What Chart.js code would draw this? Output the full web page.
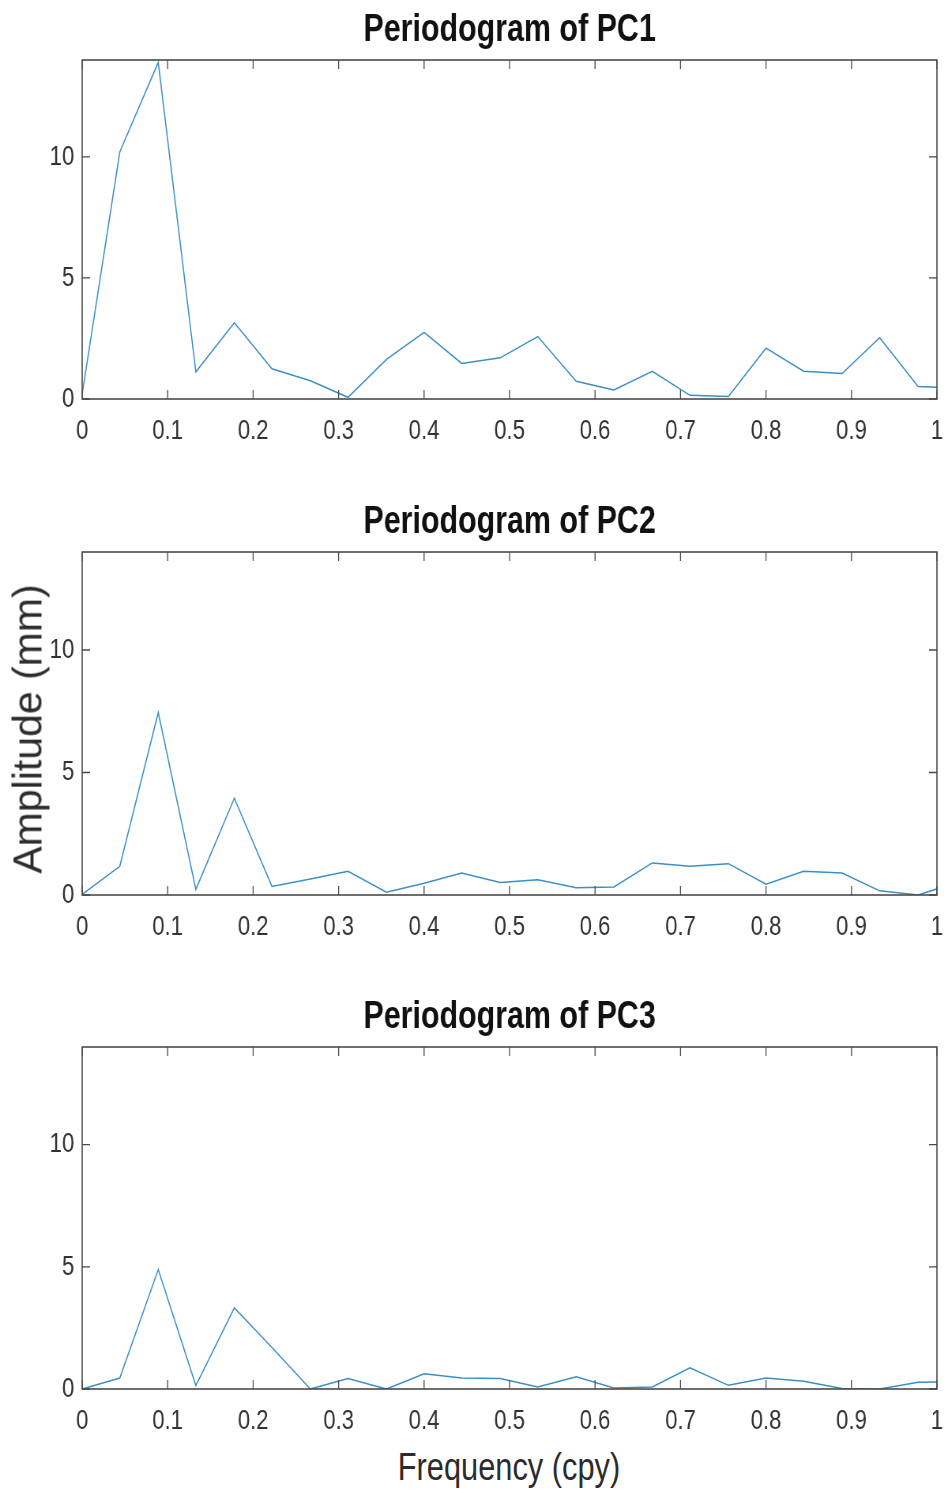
<!DOCTYPE html>
<html>
<head>
<meta charset="utf-8">
<script src="https://cdn.jsdelivr.net/npm/chart.js@4"></script>
<style>
  html, body { margin: 0; padding: 0; background: #fff; }
  body { width: 944px; height: 1492px; position: relative; overflow: hidden; }
  /* the reference figure is horizontally squeezed, so each panel is drawn wider and squeezed */
  .panel { position: absolute; left: 0; width: 1215px; transform: scaleX(0.79); transform-origin: 0 0; }
  .ylab {
    position: absolute; left: 28px; top: 729px;
    transform: translate(-50%, -50%) rotate(-90deg);
    font-family: "Liberation Sans", Arial, sans-serif; font-size: 41px;
    color: #2b2b2b; white-space: nowrap;
  }
  .xlab {
    position: absolute; left: 509px; top: 1467px;
    transform: translate(-50%, -50%) scaleX(0.81);
    font-family: "Liberation Sans", Arial, sans-serif; font-size: 38px;
    color: #2b2b2b; white-space: nowrap;
  }
</style>
</head>
<body>
<div class="panel" style="top:0px;height:449px"><canvas id="pc1"></canvas></div>
<div class="panel" style="top:492px;height:453px"><canvas id="pc2"></canvas></div>
<div class="panel" style="top:987px;height:452px"><canvas id="pc3"></canvas></div>
<div class="ylab">Amplitude (mm)</div>
<div class="xlab">Frequency (cpy)</div>
<script>
document.addEventListener('DOMContentLoaded', function () {
    // frequency bins (cpy)
    const freqs = [0, 0.044, 0.089, 0.133, 0.178, 0.222, 0.267, 0.311, 0.356, 0.4, 0.444, 0.489,
                   0.533, 0.578, 0.622, 0.667, 0.711, 0.756, 0.8, 0.844, 0.889, 0.933, 0.978, 1.022];

    const pc1 = [0.2, 10.2, 13.9, 1.12, 3.15, 1.25, 0.75, 0.07, 1.64, 2.75, 1.47, 1.7,
                 2.58, 0.73, 0.37, 1.14, 0.15, 0.1, 2.1, 1.15, 1.05, 2.53, 0.52, 0.45];
    const pc2 = [0.03, 1.17, 7.45, 0.23, 3.95, 0.35, 0.65, 0.97, 0.11, 0.48, 0.9, 0.51,
                 0.62, 0.3, 0.33, 1.31, 1.17, 1.28, 0.44, 0.97, 0.9, 0.17, 0.0, 0.5];
    const pc3 = [0.0, 0.45, 4.89, 0.14, 3.32, 1.7, 0.0, 0.43, 0.0, 0.62, 0.45, 0.43,
                 0.08, 0.5, 0.04, 0.08, 0.87, 0.15, 0.45, 0.32, 0.02, 0.0, 0.28, 0.29];

    const xTicks = [0, 0.1, 0.2, 0.3, 0.4, 0.5, 0.6, 0.7, 0.8, 0.9, 1];
    const yTicks = [0, 5, 10];

    const lineColor = '#3b8fc6';
    const boxColor = '#4a4a4a';
    const font = '"Liberation Sans", Arial, sans-serif';

    // MATLAB-like box with inward ticks
    const boxPlugin = {
        id: 'box',
        afterDatasetsDraw(chart) {
            const { ctx, chartArea: a, scales } = chart;
            ctx.save();
            ctx.strokeStyle = boxColor;
            ctx.lineWidth = 1.6;
            ctx.strokeRect(a.left, a.top, a.right - a.left, a.bottom - a.top);
            ctx.lineWidth = 1.3;
            ctx.beginPath();
            xTicks.forEach(v => {
                const px = scales.x.getPixelForValue(v);
                ctx.moveTo(px, a.bottom); ctx.lineTo(px, a.bottom - 9);
                ctx.moveTo(px, a.top); ctx.lineTo(px, a.top + 9);
            });
            yTicks.forEach(v => {
                const py = scales.y.getPixelForValue(v);
                ctx.moveTo(a.left, py); ctx.lineTo(a.left + 10, py);
                ctx.moveTo(a.right, py); ctx.lineTo(a.right - 10, py);
            });
            ctx.stroke();
            ctx.restore();
        }
    };

    function makeChart(id, title, values) {
        const ctx = document.getElementById(id).getContext('2d');
        return new Chart(ctx, {
            type: 'line',
            data: {
                datasets: [{
                    data: freqs.map((f, i) => ({ x: f, y: values[i] })),
                    borderColor: lineColor,
                    borderWidth: 1.5,
                    pointRadius: 0,
                    tension: 0,
                    fill: false
                }]
            },
            options: {
                responsive: true,
                maintainAspectRatio: false,
                animation: false,
                layout: { padding: { left: 0, right: 29, top: 0, bottom: 0 } },
                plugins: {
                    legend: { display: false },
                    tooltip: { enabled: false },
                    title: {
                        display: true,
                        fullSize: false,   // centre over the plot, not the canvas
                        text: title,
                        color: '#111',
                        font: { family: font, size: 38.5, weight: 'bold', lineHeight: 1 },
                        padding: { top: 11, bottom: 10.5 }
                    }
                },
                scales: {
                    x: {
                        type: 'linear',
                        min: 0,
                        max: 1,
                        grid: { display: false },
                        border: { display: false },
                        afterBuildTicks: s => { s.ticks = xTicks.map(v => ({ value: v })); },
                        afterFit: s => { s.height = 50; },
                        ticks: {
                            padding: 7,
                            maxRotation: 0,
                            autoSkip: false,
                            color: '#333',
                            font: { family: font, size: 28 },
                            callback: v => String(Math.round(v * 10) / 10)
                        }
                    },
                    y: {
                        min: 0,
                        max: 14,
                        grid: { display: false },
                        border: { display: false },
                        afterBuildTicks: s => { s.ticks = yTicks.map(v => ({ value: v })); },
                        afterFit: s => { s.width = 104; },
                        ticks: {
                            padding: 2,
                            color: '#333',
                            font: { family: font, size: 28 }
                        }
                    }
                }
            },
            plugins: [boxPlugin]
        });
    }

    makeChart('pc1', 'Periodogram of PC1', pc1);
    makeChart('pc2', 'Periodogram of PC2', pc2);
    makeChart('pc3', 'Periodogram of PC3', pc3);
});
</script>
</body>
</html>
